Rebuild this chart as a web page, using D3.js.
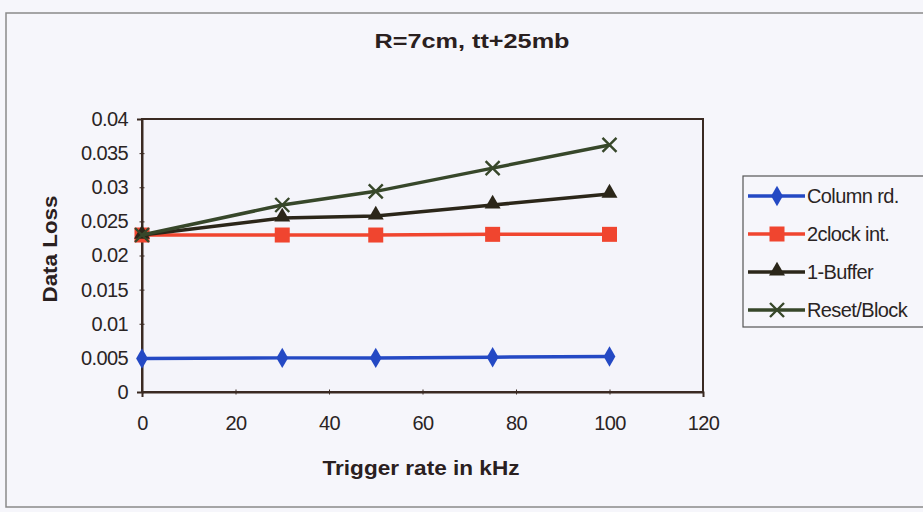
<!DOCTYPE html>
<html lang="en">
<head>
    <meta charset="UTF-8">
    <title>R=7cm, tt+25mb</title>
    <script src="https://d3js.org/d3.v7.min.js"></script>
    <style>
        body, html { margin: 0; background: #f6f6fb; }
        svg { display: block; font-family: "Liberation Sans", Arial, sans-serif; }
    </style>
</head>
<body>
    <div id="chart"></div>
    <script>
        var rates = [0, 30, 50, 75, 100];
        var columnRd = [0.0049, 0.005, 0.005, 0.0051, 0.0052];
        var clockInt = [0.023, 0.023, 0.023, 0.0231, 0.0231];
        var buffer1 = [0.023, 0.0255, 0.0258, 0.0274, 0.029];
        var resetBlock = [0.023, 0.0274, 0.0294, 0.0328, 0.0362];
        var xTicks = [0, 20, 40, 60, 80, 100, 120];
        var yTicks = [0, 0.005, 0.01, 0.015, 0.02, 0.025, 0.03, 0.035, 0.04];

        var series = [
            { name: "Column rd.", values: columnRd, color: "#2449c4", marker: "diamond" },
            { name: "2clock int.", values: clockInt, color: "#f0452f", marker: "square" },
            { name: "1-Buffer", values: buffer1, color: "#2b2619", marker: "triangle" },
            { name: "Reset/Block", values: resetBlock, color: "#37472a", marker: "x" }
        ];

        var width = 923, height = 512;
        var svg = d3.select("#chart").append("svg").attr("width", width).attr("height", height);

        // chart frame
        svg.append("rect").attr("x", 6).attr("y", 13).attr("width", 930).attr("height", 494)
            .attr("fill", "#f6f6fb").attr("stroke", "#8a8a8a").attr("stroke-width", 1.5);

        var x = d3.scaleLinear().domain([0, 120]).range([142, 703]);
        var y = d3.scaleLinear().domain([0, 0.04]).range([392, 119]);

        svg.append("rect").attr("x", x(0)).attr("y", y(0.04))
            .attr("width", x(120) - x(0)).attr("height", y(0) - y(0.04))
            .attr("fill", "#f4f4fa").attr("stroke", "#3a2a22").attr("stroke-width", 2);

        var xAxis = svg.append("g").attr("transform", "translate(0," + y(0) + ")")
            .call(d3.axisBottom(x).tickValues(xTicks).tickSize(5).tickPadding(19).tickFormat(d3.format("d")));
        var yAxis = svg.append("g").attr("transform", "translate(" + x(0) + ",0)")
            .call(d3.axisLeft(y).tickValues(yTicks).tickSize(5).tickPadding(9).tickFormat(d => d === 0 ? "0" : String(+d.toFixed(3))));
        [xAxis, yAxis].forEach(function (g) {
            g.select(".domain").attr("stroke", "#3a2a22").attr("stroke-width", 2);
            g.selectAll(".tick line").attr("stroke", "#3a2a22");
            g.selectAll(".tick text").attr("font-size", 20).attr("letter-spacing", -0.6).attr("fill", "#2a2424");
        });
        xAxis.selectAll(".tick line").attr("transform", "translate(0,-2.5)");
        yAxis.selectAll(".tick line").attr("transform", "translate(2.5,0)");

        svg.append("text").attr("x", 472).attr("y", 48).attr("text-anchor", "middle")
            .attr("font-size", 21).attr("font-weight", "bold").attr("fill", "#2a2020")
            .attr("textLength", 195).attr("lengthAdjust", "spacingAndGlyphs")
            .text("R=7cm, tt+25mb");
        svg.append("text").attr("x", 421).attr("y", 475).attr("text-anchor", "middle")
            .attr("font-size", 21).attr("font-weight", "bold").attr("fill", "#2a2020")
            .attr("textLength", 197).attr("lengthAdjust", "spacingAndGlyphs")
            .text("Trigger rate in kHz");
        svg.append("text").attr("transform", "translate(57,249) rotate(-90)").attr("text-anchor", "middle")
            .attr("font-size", 20).attr("font-weight", "bold").attr("fill", "#2a2020")
            .attr("textLength", 107).attr("lengthAdjust", "spacingAndGlyphs")
            .text("Data Loss");

        function drawMarker(g, type, color, cx, cy) {
            if (type === "diamond") {
                g.append("path").attr("d", d3.symbol(d3.symbolDiamond, 120)())
                    .attr("transform", "translate(" + cx + "," + cy + ")").attr("fill", color);
            } else if (type === "square") {
                g.append("rect").attr("x", cx - 7.5).attr("y", cy - 7.5).attr("width", 15).attr("height", 15).attr("fill", color);
            } else if (type === "triangle") {
                g.append("path").attr("d", d3.symbol(d3.symbolTriangle, 110)())
                    .attr("transform", "translate(" + cx + "," + (cy - 1) + ")").attr("fill", color);
            } else {
                g.append("path").attr("d", "M-7,-7L7,7M-7,7L7,-7")
                    .attr("transform", "translate(" + cx + "," + cy + ")")
                    .attr("stroke", color).attr("stroke-width", 2.4).attr("fill", "none");
            }
        }

        var line = d3.line().x((d, i) => x(rates[i])).y(d => y(d));
        series.forEach(function (s) {
            var g = svg.append("g");
            g.append("path").datum(s.values).attr("d", line)
                .attr("fill", "none").attr("stroke", s.color).attr("stroke-width", 3.5);
            s.values.forEach(function (v, i) {
                drawMarker(g, s.marker, s.color, x(rates[i]), y(v));
            });
        });

        // legend
        var lg = svg.append("g");
        lg.append("rect").attr("x", 743).attr("y", 176).attr("width", 200).attr("height", 151)
            .attr("fill", "#f6f6fb").attr("stroke", "#555").attr("stroke-width", 1.2);
        series.forEach(function (s, i) {
            var ly = 196 + i * 38;
            lg.append("line").attr("x1", 748).attr("x2", 805).attr("y1", ly).attr("y2", ly)
                .attr("stroke", s.color).attr("stroke-width", 3.5);
            drawMarker(lg, s.marker, s.color, 777, ly);
            lg.append("text").attr("x", 807).attr("y", ly + 7).attr("font-size", 20)
                .attr("fill", "#2a2424").attr("letter-spacing", -0.6).text(s.name);
        });
    </script>
</body>
</html>
